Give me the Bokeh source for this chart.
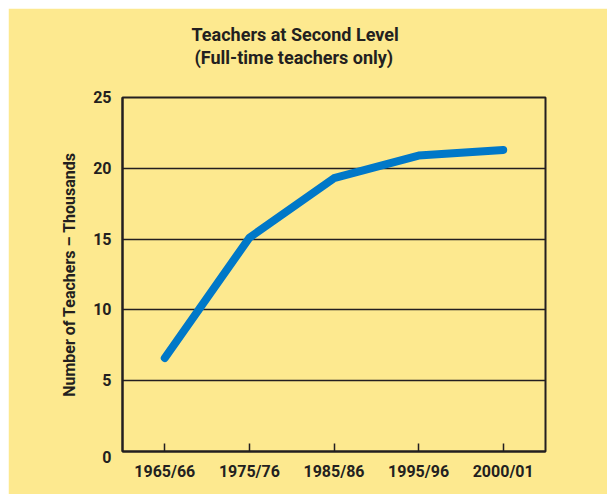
from bokeh.plotting import figure
from bokeh.models import FixedTicker, ColumnDataSource, Title
from bokeh.embed import file_html
from bokeh.resources import INLINE

# Data
years = ["1965/66", "1975/76", "1985/86", "1995/96", "2000/01"]
teachers = [6.6, 15.1, 19.3, 20.9, 21.3]
y_ticks = [0, 5, 10, 15, 20, 25]

title_line1 = "Teachers at Second Level"
title_line2 = "(Full-time teachers only)"
y_label = "Number of Teachers \u2013 Thousands"

BG = "#FDE98F"
INK = "#231F20"
BLUE = "#0078C8"
FONT = "Roboto"

p = figure(width=599, height=486, x_range=years, y_range=(0, 25),
           output_backend="svg", toolbar_location=None, title=None,
           min_border_left=114, min_border_right=62,
           min_border_top=89, min_border_bottom=43)
p.styles = {"margin-top": "8px", "margin-left": "8px"}
p.background_fill_color = BG
p.border_fill_color = BG
p.outline_line_color = INK
p.outline_line_width = 2

src = ColumnDataSource(dict(x=years, y=teachers))
p.line("x", "y", source=src, line_color=BLUE, line_width=8, line_cap="round", line_join="round")

# grid
p.xgrid.grid_line_color = None
p.ygrid.grid_line_color = INK
p.ygrid.grid_line_width = 1.5
p.ygrid.ticker = FixedTicker(ticks=y_ticks)

# y axis
p.yaxis.ticker = FixedTicker(ticks=y_ticks)
p.yaxis.major_label_overrides = {0: "\n0"}
p.yaxis.major_label_text_line_height = 0.6
p.yaxis.major_tick_line_color = None
p.yaxis.minor_tick_line_color = None
p.yaxis.axis_line_color = INK
p.yaxis.axis_line_width = 2
p.yaxis.major_label_text_font = FONT
p.yaxis.major_label_text_font_style = "bold"
p.yaxis.major_label_text_font_size = "16px"
p.yaxis.major_label_text_color = INK
p.yaxis.major_label_standoff = 5
p.yaxis.axis_label = y_label
p.yaxis.axis_label_text_font = FONT
p.yaxis.axis_label_text_font_style = "bold"
p.yaxis.axis_label_text_font_size = "16px"
p.yaxis.axis_label_text_color = INK
p.yaxis.axis_label_standoff = 11

# x axis
p.xaxis.axis_line_color = INK
p.xaxis.axis_line_width = 2
p.xaxis.major_tick_in = 8
p.xaxis.major_tick_out = 0
p.xaxis.major_tick_line_color = INK
p.xaxis.major_tick_line_width = 1.5
p.xaxis.major_label_text_font = FONT
p.xaxis.major_label_text_font_style = "bold"
p.xaxis.major_label_text_font_size = "16px"
p.xaxis.major_label_text_color = INK
p.xaxis.major_label_standoff = 10

# titles: spacer closest to the plot, then subtitle, then main title
p.add_layout(Title(text=" ", standoff=27, text_font_size="1px", text_color=BG), "above")
p.add_layout(Title(text=title_line2, align="left", offset=72, standoff=0,
                   text_font=FONT, text_font_style="bold", text_font_size="18px",
                   text_color=INK), "above")
p.add_layout(Title(text=title_line1, align="left", offset=69, standoff=0,
                   text_font=FONT, text_font_style="bold", text_font_size="18px",
                   text_color=INK), "above")

open("out.html", "w").write(file_html(p, INLINE))
